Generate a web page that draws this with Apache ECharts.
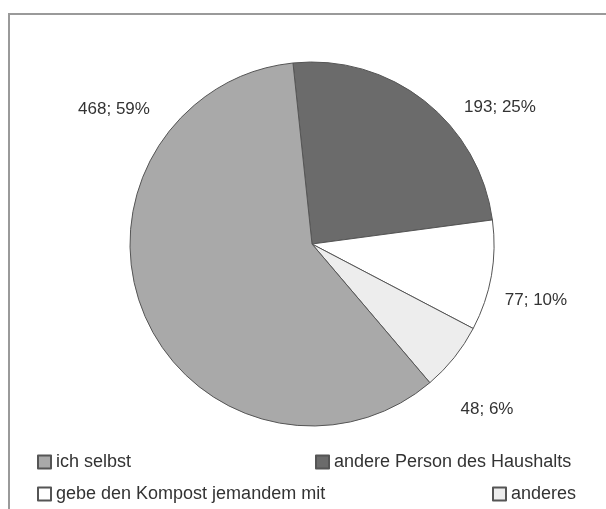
<!DOCTYPE html>
<html>
<head>
<meta charset="utf-8">
<script src="https://cdn.jsdelivr.net/npm/echarts@6/dist/echarts.min.js"></script>
<style>
  html, body { margin: 0; padding: 0; background: #fff; }
  #main { width: 606px; height: 509px; }
</style>
</head>
<body>
<div id="main"></div>
<script>
// Reihenfolge im Kreis (im Uhrzeigersinn ab oben)
var names = ['andere Person des Haushalts', 'gebe den Kompost jemandem mit', 'anderes', 'ich selbst'];
var values = [193, 77, 48, 468];
var colors = ['#6b6b6b', '#ffffff', '#ededed', '#a9a9a9'];
// Legendenreihenfolge
var legendNames = ['ich selbst', 'andere Person des Haushalts', 'gebe den Kompost jemandem mit', 'anderes'];

// Position der Beschriftungen (Mittelpunkt, px)
var labelPos = {
  'andere Person des Haushalts': [500, 107],
  'gebe den Kompost jemandem mit': [536, 300],
  'anderes': [487, 409],
  'ich selbst': [114, 109]
};
var legendPos = [[32, 448], [310, 448], [32, 480], [487, 480]];

var chart = echarts.init(document.getElementById('main'));
var font = '"Liberation Sans", Arial, sans-serif';

var legends = legendNames.map(function (n, i) {
  return {
    data: [n],
    left: legendPos[i][0],
    top: legendPos[i][1],
    icon: 'rect',
    itemWidth: 13,
    itemHeight: 13,
    selectedMode: false,
    textStyle: { fontFamily: font, fontSize: 18, color: '#333' }
  };
});

var option = {
  animation: false,
  graphic: [{
    type: 'rect',
    shape: { x: 9, y: 14, width: 620, height: 520 },
    style: { fill: 'none', stroke: '#9a9a9a', lineWidth: 2 },
    silent: true
  }],
  legend: legends,
  series: [{
    type: 'pie',
    center: [312, 244],
    radius: 182,
    startAngle: 96,
    clockwise: true,
    percentPrecision: 0,
    itemStyle: { borderColor: '#555', borderWidth: 1 },
    label: {
      show: true,
      position: 'outside',
      alignTo: 'none',
      overflow: 'none',
      formatter: '{c}; {d}%',
      fontFamily: font,
      fontSize: 17,
      color: '#333'
    },
    labelLine: { show: false },
    labelLayout: function (params) {
      var p = labelPos[names[params.dataIndex]];
      return { x: p[0], y: p[1], align: 'center', verticalAlign: 'middle' };
    },
    emphasis: { disabled: true },
    data: names.map(function (n, i) {
      return { name: n, value: values[i], itemStyle: { color: colors[i] } };
    })
  }]
};
chart.setOption(option);
</script>
</body>
</html>
